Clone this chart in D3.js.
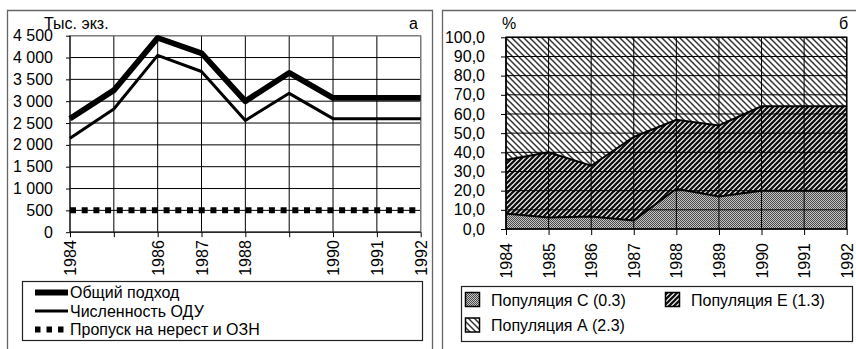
<!DOCTYPE html>
<html>
<head>
<meta charset="utf-8">
<script src="https://cdn.jsdelivr.net/npm/d3@7"></script>
<style>
  html, body { margin: 0; padding: 0; background: #fff; }
  svg { display: block; font-family: "Liberation Sans", Arial, sans-serif; }
</style>
</head>
<body>
<svg id="chart" width="856" height="349"></svg>
<script>
// ---- data ----
const years = ["1984","1985","1986","1987","1988","1989","1990","1991","1992"];
const yearLabelsA = ["1984","","1986","1987","1988","","1990","1991","1992"];

// panel "а": thousands of fish
const totalRun   = [2600, 3250, 4450, 4100, 3000, 3650, 3075, 3075, 3075];
const allowedOdu = [2150, 2820, 4050, 3680, 2560, 3180, 2600, 2600, 2600];
const escapement = [500, 500, 500, 500, 500, 500, 500, 500, 500];
const ticksA = [0, 500, 1000, 1500, 2000, 2500, 3000, 3500, 4000, 4500];

// panel "б": population shares, %
const popC = [8, 6, 6.5, 4.5, 21, 17, 20, 20, 20];
const popE = [28, 34, 26.5, 43.5, 36, 37, 44, 44, 44];
const popA = [64, 60, 67, 52, 43, 46, 36, 36, 36];
const ticksB = [0, 10, 20, 30, 40, 50, 60, 70, 80, 90, 100];

const FS = 16;
const svg = d3.select("#chart");
const ru = d3.formatLocale({decimal: ",", thousands: " ", grouping: [3], currency: ["", ""]});
const fmtA = ru.format(",d");
const fmtB = ru.format(".1f");

// ---- patterns ----
const defs = svg.append("defs");
const pC = defs.append("pattern").attr("id", "patC").attr("patternUnits", "userSpaceOnUse")
  .attr("width", 2).attr("height", 2);
pC.append("rect").attr("width", 2).attr("height", 2).attr("fill", "#c4c4c4");
pC.append("rect").attr("width", 1).attr("height", 1).attr("fill", "#4a4a4a");
pC.append("rect").attr("x", 1).attr("y", 1).attr("width", 1).attr("height", 1).attr("fill", "#4a4a4a");

const pE = defs.append("pattern").attr("id", "patE").attr("patternUnits", "userSpaceOnUse")
  .attr("width", 5).attr("height", 5);
pE.append("rect").attr("width", 5).attr("height", 5).attr("fill", "#fff");
pE.append("path").attr("d", "M-1,6 L6,-1 M-1,1 L1,-1 M4,6 L6,4")
  .attr("stroke", "#111").attr("stroke-width", 2.3);

const pA = defs.append("pattern").attr("id", "patA").attr("patternUnits", "userSpaceOnUse")
  .attr("width", 6).attr("height", 6);
pA.append("rect").attr("width", 6).attr("height", 6).attr("fill", "#fff");
pA.append("path").attr("d", "M-1,-1 L7,7 M-1,5 L1,7 M5,-1 L7,1")
  .attr("stroke", "#333").attr("stroke-width", 1.5);

// ---- panel frames ----
svg.append("path").attr("d", "M7.5,349 V10.5 H432.5 V349")
  .attr("fill", "none").attr("stroke", "#666").attr("stroke-width", 1.3);
svg.append("path").attr("d", "M442.5,349 V10.5 H856")
  .attr("fill", "none").attr("stroke", "#666").attr("stroke-width", 1.3);

// =========== panel а ===========
const xA = d3.scalePoint().domain(years).range([70, 420.7]);
const yA = d3.scaleLinear().domain([0, 4500]).range([232.2, 35.7]);
const gA = svg.append("g");

// grid
gA.append("g").selectAll("line").data(ticksA.slice(1)).join("line")
  .attr("x1", xA.range()[0]).attr("x2", xA.range()[1])
  .attr("y1", d => yA(d)).attr("y2", d => yA(d))
  .attr("stroke", "#000").attr("stroke-width", 1);
gA.append("g").selectAll("line").data(years.slice(1)).join("line")
  .attr("x1", d => xA(d)).attr("x2", d => xA(d))
  .attr("y1", yA(0)).attr("y2", yA(4500))
  .attr("stroke", "#000").attr("stroke-width", 1);
// plot-area border
gA.append("rect").attr("x", xA.range()[0]).attr("y", yA(4500))
  .attr("width", xA.range()[1] - xA.range()[0]).attr("height", yA(0) - yA(4500))
  .attr("fill", "none").attr("stroke", "#888").attr("stroke-width", 1.2);

// axes
const axLA = gA.append("g").attr("transform", `translate(${xA.range()[0]},0)`)
  .call(d3.axisLeft(yA).tickValues(ticksA).tickFormat(fmtA).tickSize(4).tickPadding(13));
const axBA = gA.append("g").attr("transform", `translate(0,${yA(0)})`)
  .call(d3.axisBottom(xA).tickFormat((d, i) => yearLabelsA[i]).tickSize(5).tickPadding(0));
[axLA, axBA].forEach(a => {
  a.select(".domain").attr("stroke", "#000").attr("stroke-width", 1.2);
  a.selectAll(".tick line").attr("stroke", "#000");
  a.selectAll("text").attr("font-size", FS).attr("fill", "#000").attr("font-family", null);
});
axBA.select(".domain").attr("d", `M${xA.range()[0]},0H${xA.range()[1]}`);
axLA.select(".domain").attr("d", `M0,${yA(0)}V${yA(4500)}`);
axBA.selectAll("text")
  .attr("transform", "rotate(-90)").attr("text-anchor", "end")
  .attr("x", -8).attr("y", 0).attr("dy", "0.35em");

// series
const lineA = d3.line().x((d, i) => xA(years[i])).y(d => yA(d));
gA.append("path").datum(escapement).attr("d", lineA)
  .attr("fill", "none").attr("stroke", "#000").attr("stroke-width", 6)
  .attr("stroke-dasharray", "6,5.7");
gA.append("path").datum(allowedOdu).attr("d", lineA)
  .attr("fill", "none").attr("stroke", "#000").attr("stroke-width", 3).attr("stroke-linejoin", "round");
gA.append("path").datum(totalRun).attr("d", lineA)
  .attr("fill", "none").attr("stroke", "#000").attr("stroke-width", 5.8).attr("stroke-linejoin", "round");

// captions
gA.append("text").attr("x", 44).attr("y", 29).attr("font-size", FS).text("Тыс. экз.");
gA.append("text").attr("x", 409).attr("y", 29).attr("font-size", FS).text("а");

// legend
const legA = gA.append("g");
legA.append("rect").attr("x", 22.5).attr("y", 281.5).attr("width", 400).attr("height", 59)
  .attr("fill", "#fff").attr("stroke", "#222").attr("stroke-width", 1.2);
const legItemsA = [
  {label: "Общий подход", w: 5.8, dash: null},
  {label: "Численность ОДУ", w: 3, dash: null},
  {label: "Пропуск на нерест и ОЗН", w: 6, dash: "5.5,6"}
];
legItemsA.forEach((it, i) => {
  const cy = 292.5 + i * 18.5;
  legA.append("line").attr("x1", 35).attr("x2", 68).attr("y1", cy).attr("y2", cy)
    .attr("stroke", "#000").attr("stroke-width", it.w).attr("stroke-dasharray", it.dash);
  legA.append("text").attr("x", 70).attr("y", cy).attr("dy", "0.36em")
    .attr("font-size", FS).text(it.label);
});

// =========== panel б ===========
const xB = d3.scalePoint().domain(years).range([506, 846.7]);
const yB = d3.scaleLinear().domain([0, 100]).range([229, 37.3]);
const gB = svg.append("g");

const table = years.map((y, i) => ({year: y, C: popC[i], E: popE[i], A: popA[i]}));
const stack = d3.stack().keys(["C", "E", "A"])(table);
const fills = {C: "url(#patC)", E: "url(#patE)", A: "url(#patA)"};
const area = d3.area().x(d => xB(d.data.year)).y0(d => yB(d[0])).y1(d => yB(d[1]));
gB.append("g").selectAll("path").data(stack).join("path")
  .attr("d", area).attr("fill", d => fills[d.key]);

// grid
gB.append("g").selectAll("line").data(ticksB.slice(1)).join("line")
  .attr("x1", xB.range()[0]).attr("x2", xB.range()[1])
  .attr("y1", d => yB(d)).attr("y2", d => yB(d))
  .attr("stroke", "#000").attr("stroke-width", 1);
gB.append("g").selectAll("line").data(years.slice(1)).join("line")
  .attr("x1", d => xB(d)).attr("x2", d => xB(d))
  .attr("y1", yB(0)).attr("y2", yB(100))
  .attr("stroke", "#000").attr("stroke-width", 1);
gB.append("rect").attr("x", xB.range()[0]).attr("y", yB(100))
  .attr("width", xB.range()[1] - xB.range()[0]).attr("height", yB(0) - yB(100))
  .attr("fill", "none").attr("stroke", "#000").attr("stroke-width", 1.5);

// boundaries between layers
const edge = d3.line().x(d => xB(d.data.year)).y(d => yB(d[1]));
gB.append("g").selectAll("path").data(stack.slice(0, 2)).join("path")
  .attr("d", edge).attr("fill", "none").attr("stroke", "#000").attr("stroke-width", 2);

const axLB = gB.append("g").attr("transform", `translate(${xB.range()[0]},0)`)
  .call(d3.axisLeft(yB).tickValues(ticksB).tickFormat(fmtB).tickSize(5).tickPadding(16));
const axBB = gB.append("g").attr("transform", `translate(0,${yB(0)})`)
  .call(d3.axisBottom(xB).tickSize(6).tickPadding(0));
[axLB, axBB].forEach(a => {
  a.select(".domain").attr("stroke", "#000").attr("stroke-width", 1.2);
  a.selectAll(".tick line").attr("stroke", "#000");
  a.selectAll("text").attr("font-size", FS).attr("fill", "#000").attr("font-family", null);
});
axBB.select(".domain").attr("d", `M${xB.range()[0]},0H${xB.range()[1]}`);
axLB.select(".domain").attr("d", `M0,${yB(0)}V${yB(100)}`);
axBB.selectAll("text")
  .attr("transform", "rotate(-90)").attr("text-anchor", "end")
  .attr("x", -14).attr("y", 0).attr("dy", "0.35em");

gB.append("text").attr("x", 502).attr("y", 29).attr("font-size", FS).text("%");
gB.append("text").attr("x", 839).attr("y", 29).attr("font-size", FS).text("б");

// legend
const legB = gB.append("g");
legB.append("rect").attr("x", 461.5).attr("y", 286.5).attr("width", 391).attr("height", 55)
  .attr("fill", "#fff").attr("stroke", "#222").attr("stroke-width", 1.2);
const legItemsB = [
  {label: "Популяция С (0.3)", key: "C", x: 465, y: 300},
  {label: "Популяция Е (1.3)", key: "E", x: 665, y: 300},
  {label: "Популяция А (2.3)", key: "A", x: 465, y: 325.5}
];
legItemsB.forEach(it => {
  legB.append("rect").attr("x", it.x + 0.5).attr("y", it.y - 7.5).attr("width", 14).attr("height", 14)
    .attr("fill", fills[it.key]).attr("stroke", "#000").attr("stroke-width", 1.5);
  legB.append("text").attr("x", it.x + 26).attr("y", it.y).attr("dy", "0.36em")
    .attr("font-size", FS).text(it.label);
});
</script>
</body>
</html>
